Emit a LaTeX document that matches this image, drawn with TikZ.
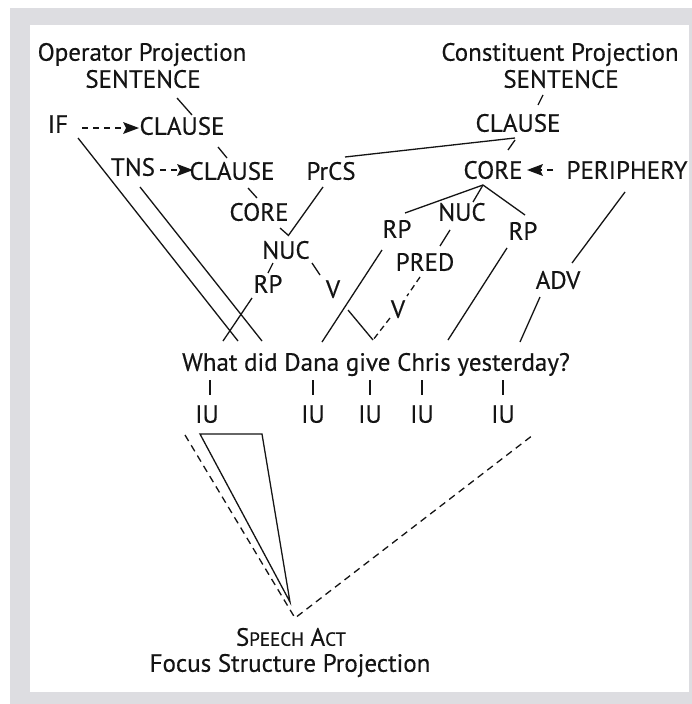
\documentclass[tikz,border=0pt]{standalone}
\usepackage{fontspec}
\setmainfont{PT Sans}
\newfontfamily\lblfont[FakeBold=0.35]{PT Sans}
\usetikzlibrary{calc}
\definecolor{framegray}{RGB}{221,221,225}
\definecolor{ink}{RGB}{20,20,20}
\begin{document}
\begin{tikzpicture}[x=1pt,y=-1pt,
  lbl/.style={font=\lblfont\fontsize{25}{29}\selectfont, text=ink, inner sep=0pt, text height=17.5pt, text depth=0pt},
  ln/.style={line width=1.3pt, draw=ink},
  dsh/.style={ln, dash pattern=on 7pt off 5pt},
  dashtip/.style={ln, dash pattern=on 6pt off 5pt, shorten >=13pt},
  tip/.style={draw=none, fill=ink}]
\useasboundingbox (0,0) rectangle (692,704);
\fill[framegray] (10,8) rectangle (692,704);
\fill[white] (30,25) rectangle (689,692);

% operator projection
\node[lbl] (opproj) at (142,52) {Operator Projection};
\node[lbl] (opsent) at (143,79) {SENTENCE};
\node[lbl] (if) at (58,124) {IF};
\node[lbl] (opcl1) at (182,126) {CLAUSE};
\node[lbl] (tns) at (133,167) {TNS};
\node[lbl] (opcl2) at (232,171) {CLAUSE};
\node[lbl] (prcs) at (331,171) {PrCS};
\node[lbl] (opcore) at (259,212) {CORE};
\node[lbl] (opnuc) at (286,250) {NUC};
\node[lbl] (oprp) at (268,284) {RP};
\node[lbl] (opv) at (333,289) {V};

% constituent projection
\node[lbl] (conproj) at (560,52) {Constituent Projection};
\node[lbl] (consent) at (561,79) {SENTENCE};
\node[lbl] (concl) at (518,123) {CLAUSE};
\node[lbl] (concore) at (493,170) {CORE};
\node[lbl] (periph) at (627,170) {PERIPHERY};
\node[lbl] (rpl) at (397,229) {RP};
\node[lbl] (connuc) at (462,212) {NUC};
\node[lbl] (rpr) at (523,231) {RP};
\node[lbl] (pred) at (425,262) {PRED};
\node[lbl] (conv) at (398,309) {V};
\node[lbl] (adv) at (558,280) {ADV};

% sentence
\node[lbl] (sent) at (376,362) {What did Dana give Chris yesterday?};
\coordinate (givept) at (373,340);

% IUs
\node[lbl] (iu1) at (207,414) {IU};
\node[lbl] (iu2) at (313,414) {IU};
\node[lbl] (iu3) at (370,414) {IU};
\node[lbl] (iu4) at (422,414) {IU};
\node[lbl] (iu5) at (503,414) {IU};

% focus structure
\node[lbl] (sa) at (291,637) {S{\fontsize{19}{21}\selectfont PEECH} A{\fontsize{19}{21}\selectfont CT}};
\node[lbl] (fsp) at (290,663) {Focus Structure Projection};

% dashed arrows (dashed shaft + solid filled head)
\draw[dashtip] ($(if)+(24,4)$) -- ($(opcl1)+(-43,2)$);
\fill[tip] ($(opcl1)+(-43,2)$) -- ++(-16,-6) -- ++(3,6) -- ++(-3,6) -- cycle;
\draw[dashtip] ($(tns)+(27,3)$) -- ($(opcl2)+(-39,-1)$);
\fill[tip] ($(opcl2)+(-39,-1)$) -- ++(-16,-6) -- ++(3,6) -- ++(-3,6) -- cycle;
\draw[dashtip] ($(periph)+(-74,0)$) -- ($(concore)+(34,0)$);
\fill[tip] ($(concore)+(34,0)$) -- ++(16,-6) -- ++(-3,6) -- ++(3,6) -- cycle;

% operator edges
\draw[ln] ($(opsent)+(34,19)$) -- ($(opcl1)+(10,-11)$);
\draw[ln] ($(opcl1)+(36,21)$) -- ($(opcl2)+(-5,-13)$);
\draw[ln] ($(opcl2)+(16,17)$) -- ($(opcore)+(-2,-14)$);
\draw[ln] ($(opcore)+(21,16)$) -- ($(opnuc)+(2,-15)$);
\draw[ln] ($(prcs)+(-8,16)$) -- ($(opnuc)+(2,-14)$);
\draw[ln] ($(opnuc)+(-13,13)$) -- ($(oprp)+(0,-11)$);
\draw[ln] ($(opnuc)+(26,13)$) -- ($(opv)+(-13,-14)$);
\draw[ln] ($(if)+(20,14)$) -- ($(sent)+(-138,-21)$);
\draw[ln] ($(tns)+(7,20)$) -- ($(sent)+(-114,-21)$);
\draw[ln] ($(oprp)+(-16,14)$) -- ($(sent)+(-153,-21)$);
\draw[ln] ($(opv)+(15,21)$) -- (givept);

% constituent edges
\draw[ln] ($(consent)+(-18,16)$) -- ($(concl)+(20,-18)$);
\draw[ln] ($(concl)+(-3,17)$) -- ($(concore)+(15,-20)$);
\draw[ln] ($(concl)+(-3,15)$) -- ($(prcs)+(14,-14)$);
\draw[ln] ($(concore)+(-10,15)$) -- ($(rpl)+(8,-16)$);
\draw[ln] ($(concore)+(-10,15)$) -- ($(connuc)+(11,-10)$);
\draw[ln] ($(concore)+(-10,15)$) -- ($(rpr)+(2,-16)$);
\draw[ln] ($(connuc)+(-12,18)$) -- ($(pred)+(15,-16)$);
\draw[ln, dash pattern=on 6pt off 4pt] ($(pred)+(-5,15)$) -- ($(conv)+(9,-13)$);
\draw[ln, dash pattern=on 6pt off 4pt] ($(conv)+(-8,9)$) -- (givept);
\draw[ln] ($(rpl)+(-15,21)$) -- ($(sent)+(-54,-20)$);
\draw[ln] ($(rpr)+(-16,17)$) -- ($(sent)+(72,-22)$);
\draw[ln] ($(periph)+(-2,22)$) -- ($(adv)+(14,-17)$);
\draw[ln] ($(adv)+(-18,17)$) -- ($(sent)+(144,-20)$);

% IU ticks
\foreach \n/\x in {iu1/210,iu2/313,iu3/370,iu4/422,iu5/503}
  \draw[ln] (\x,380) -- (\x,395);

% focus structure lines
\draw[ln, line join=miter] ($(iu1)+(-7,20)$) -- ($(iu1)+(55,20)$) -- ($(sa)+(-1,-35)$) -- cycle;
\draw[dsh] ($(iu1)+(-22,21)$) -- ($(sa)+(4,-19)$) -- ($(iu5)+(30,21)$);
\end{tikzpicture}
\end{document}
